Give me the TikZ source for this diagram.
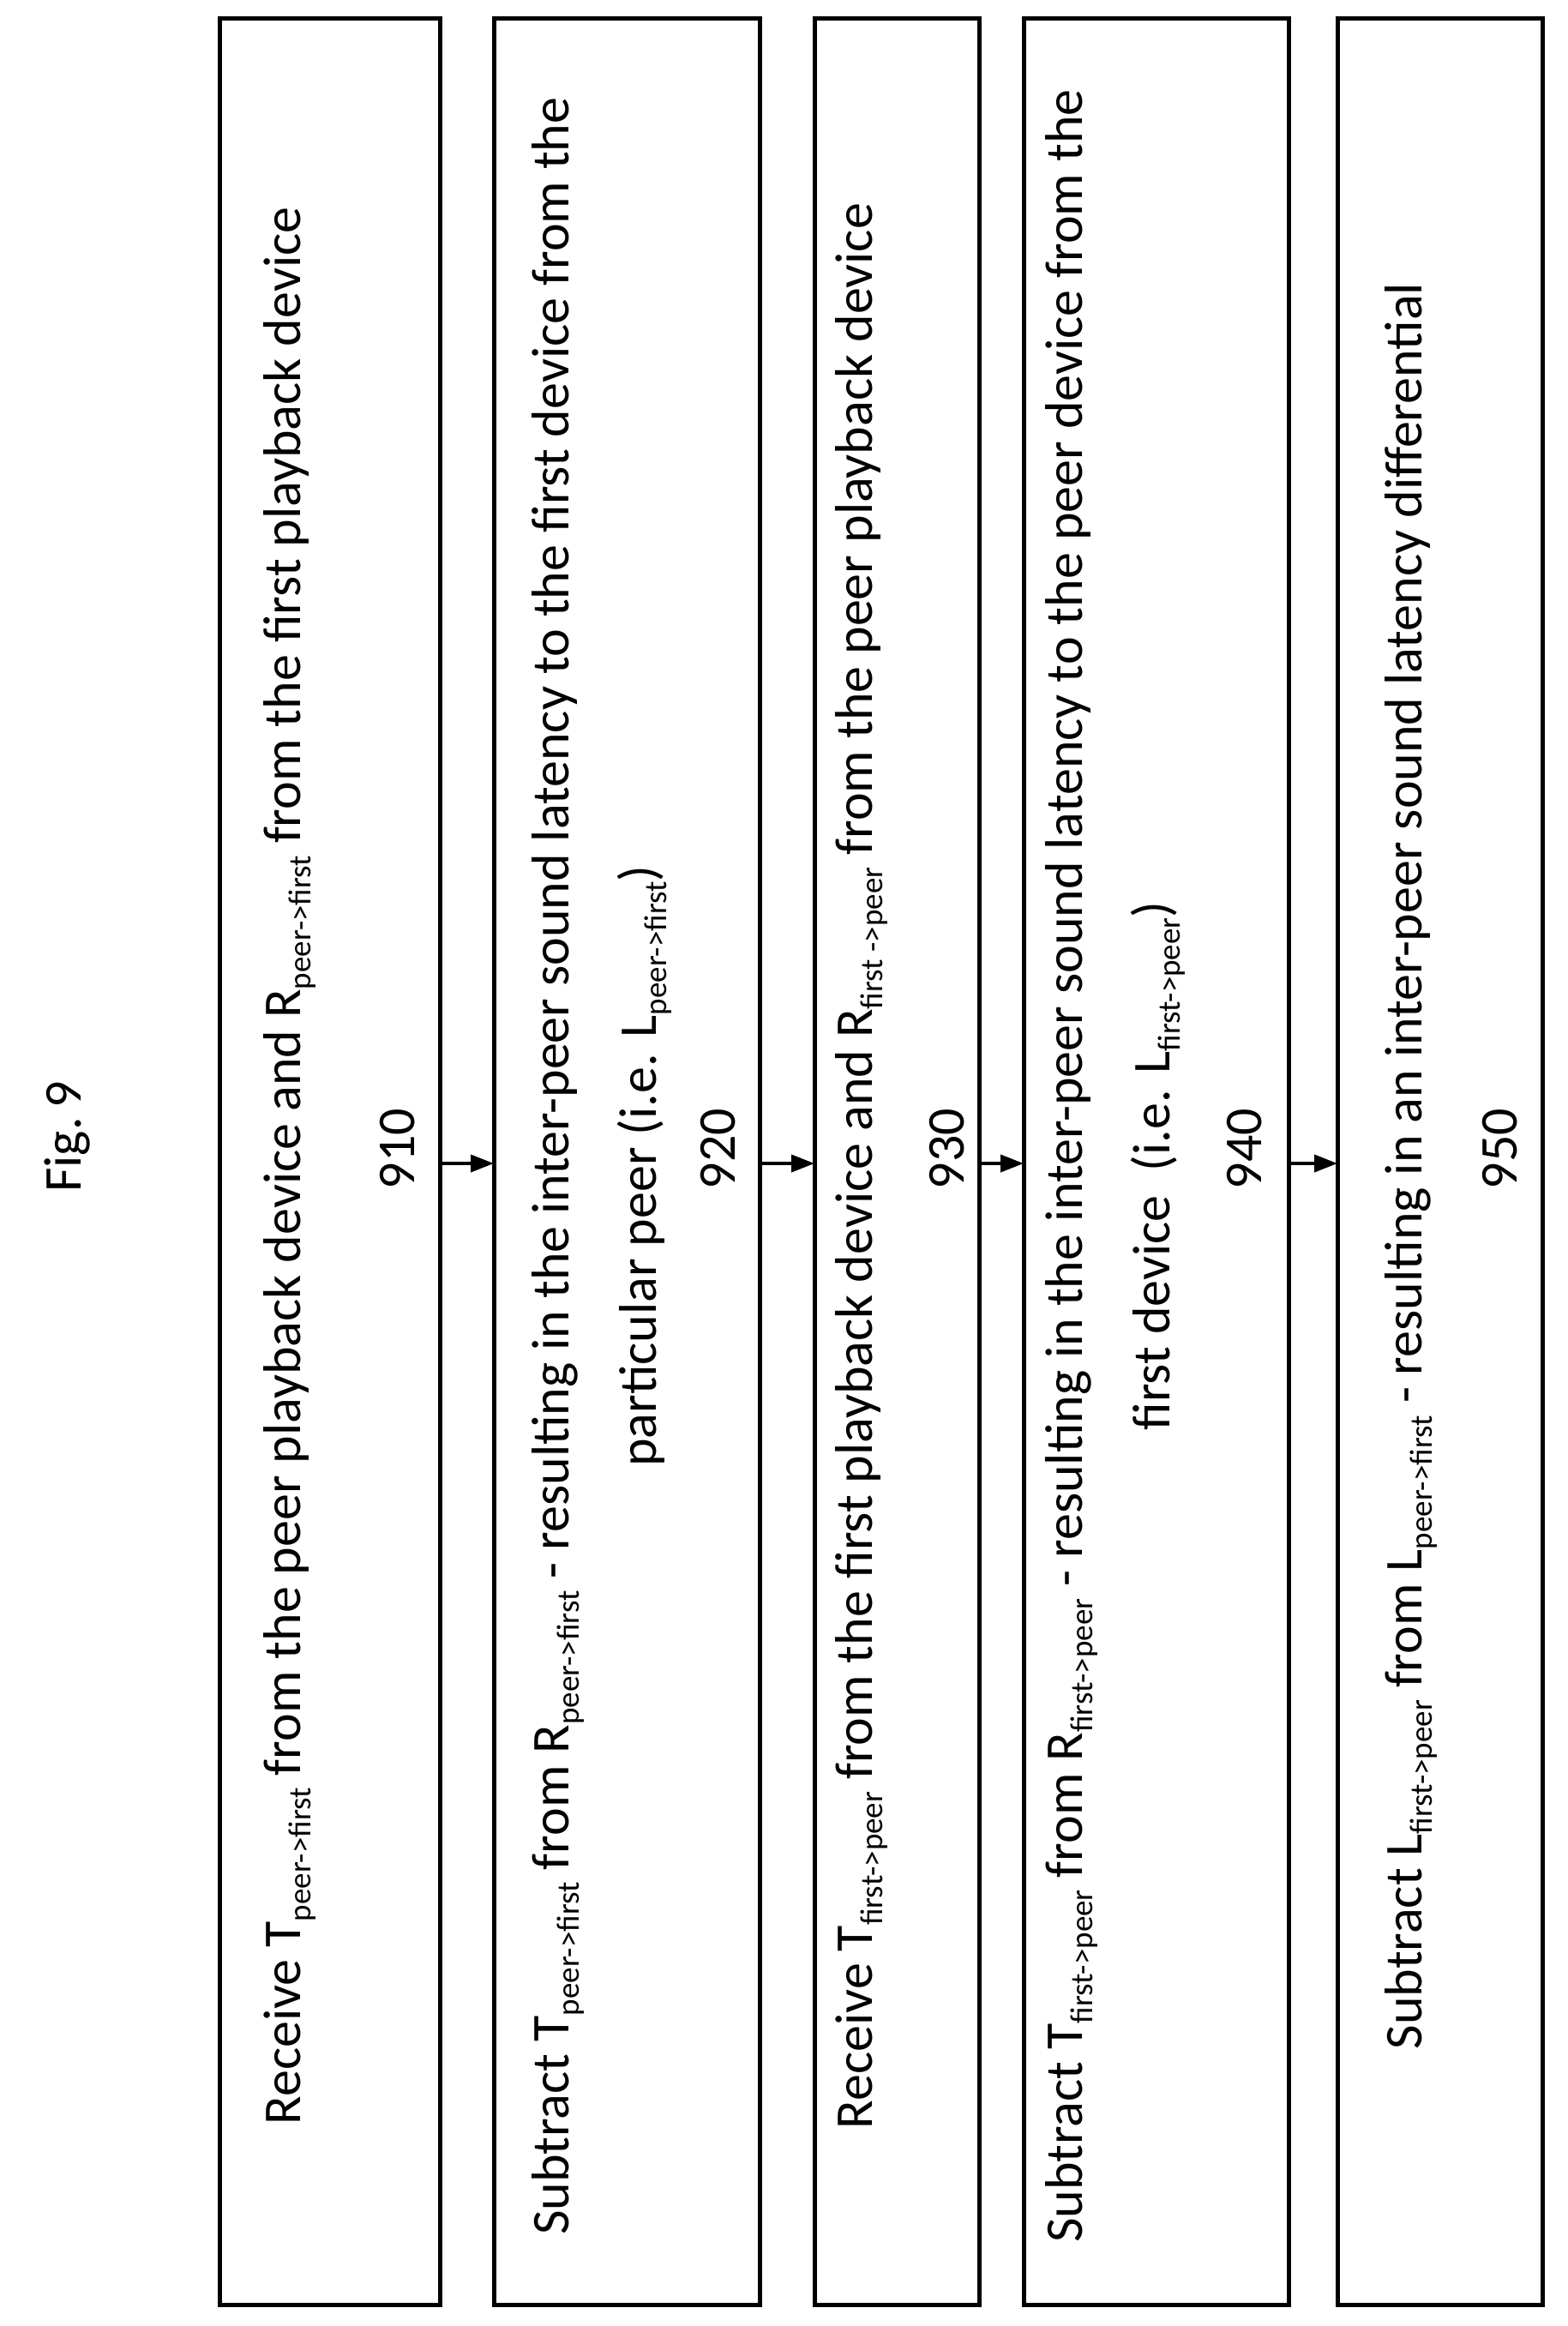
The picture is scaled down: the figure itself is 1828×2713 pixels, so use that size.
\documentclass[tikz,border=0pt]{standalone}
\usepackage{fontspec}
\setmainfont{Carlito}
\usetikzlibrary{arrows.meta}
\newcommand\lsub[1]{\raisebox{-0.4ex}{\fontsize{37}{37}\selectfont #1}}
\begin{document}
\begin{tikzpicture}[x=1pt,y=-1pt,
  boxst/.style={draw,line width=5pt},
  txt/.style={rotate=90,align=center,font=\fontsize{62}{102}\selectfont,inner sep=0},
  num/.style={rotate=90,font=\fontsize{62}{62}\selectfont,inner sep=0},
  arr/.style={line width=4pt,-{Triangle[length=27pt,width=20pt]}}]
\useasboundingbox (0,0) rectangle (1828,2713);
\node[num] (fig) at (78,1326) {Fig.\,9};
\foreach \n/\l/\r in {1/256/513,2/576/886,3/950/1142,4/1194/1503,5/1560/1799}{
  \draw[boxst] (\l,22) rectangle (\r,2688);
  \coordinate (L\n) at (\l,1357);
  \coordinate (R\n) at (\r,1357);
}
\node[txt] (t1) at (338,1360) {Receive T\lsub{peer->first} from the peer playback device and R\lsub{peer->first} from the first playback device};
\node[txt] (t2) at (702,1360) {Subtract T\lsub{peer->first} from R\lsub{peer->first} - resulting in the inter-peer sound latency to the first device from the\\particular peer (i.e. L\lsub{peer->first})};
\node[txt] (t3) at (1005,1360) {Receive T\lsub{first->peer} from the first playback device and R\lsub{first ->peer} from the peer playback device};
\node[txt] (t4) at (1301,1360) {Subtract T\lsub{first->peer} from R\lsub{first->peer} - resulting in the inter-peer sound latency to the peer device from the\\first device~~(i.e. L\lsub{first->peer})};
\node[txt] (t5) at (1646,1360) {Subtract L\lsub{first->peer} from L\lsub{peer->first} - resulting in an inter-peer sound latency differential};
\node[num] (n1) at (464,1340) {910};
\node[num] (n2) at (838,1340) {920};
\node[num] (n3) at (1105,1340) {930};
\node[num] (n4) at (1452,1340) {940};
\node[num] (n5) at (1750,1340) {950};
\draw[arr] (R1) -- (L2);
\draw[arr] (R2) -- (L3);
\draw[arr] (R3) -- (L4);
\draw[arr] (R4) -- (L5);
\end{tikzpicture}
\end{document}
